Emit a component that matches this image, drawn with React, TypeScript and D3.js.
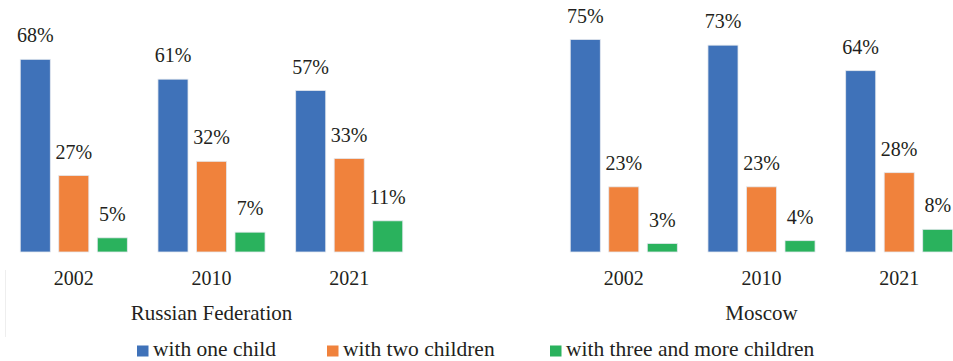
import React from "react";
import * as d3 from "d3";

const years = ["2002", "2010", "2021"];
const seriesNames = ["with one child", "with two children", "with three and more children"];
const seriesColors = ["#3F72B9", "#F0823C", "#2AB25D"];
const russiaOne = [68, 61, 57];
const russiaTwo = [27, 32, 33];
const russiaThree = [5, 7, 11];
const moscowOne = [75, 73, 64];
const moscowTwo = [23, 23, 28];
const moscowThree = [3, 4, 8];
const panelTitles = ["Russian Federation", "Moscow"];

const W = 953;
const H = 361;
const FONT = "'Liberation Serif', 'DejaVu Serif', serif";
const TEXT = "#231F20";

const y = d3.scaleLinear().domain([0, 75]).range([252, 39.5]);

function Panel({ x0Range, values, title }: { x0Range: [number, number]; values: number[][]; title: string }) {
  const x0 = d3.scaleBand<string>().domain(years).range(x0Range).paddingInner(0.161).paddingOuter(0.08);
  const x1 = d3
    .scaleBand<string>()
    .domain(seriesNames)
    .range([0, x0.bandwidth()])
    .paddingInner(0.22)
    .paddingOuter(0.11);
  const center = (x0Range[0] + x0Range[1]) / 2;
  return (
    <g>
      {years.map((yr, gi) => (
        <g key={yr} transform={`translate(${x0(yr)},0)`}>
          {seriesNames.map((s, si) => {
            const v = values[si][gi];
            const bx = x1(s)!;
            const bw = x1.bandwidth();
            return (
              <g key={s}>
                <rect
                  x={bx}
                  y={y(v)}
                  width={bw}
                  height={y(0) - y(v)}
                  fill={seriesColors[si]}
                  stroke="#E4E8EE"
                  strokeWidth={0.8}
                />
                <text
                  x={bx + bw / 2}
                  y={y(v) - 17}
                  textAnchor="middle"
                  fontSize={20}
                  fontFamily={FONT}
                  fill={TEXT}
                >
                  {v}%
                </text>
              </g>
            );
          })}
          <text
            x={x0.bandwidth() / 2}
            y={285}
            textAnchor="middle"
            fontSize={20}
            fontFamily={FONT}
            fill={TEXT}
          >
            {yr}
          </text>
        </g>
      ))}
      <text x={center} y={320} textAnchor="middle" fontSize={21} fontFamily={FONT} fill={TEXT}>
        {title}
      </text>
    </g>
  );
}

const legendX = [137, 327, 550];

export default function App() {
  return (
    <svg
      width={W}
      height={H}
      style={{ position: "absolute", left: 0, top: 0, background: "#fff" }}
    >
      <rect width={W} height={H} fill="#fff" />
      <line x1={5.5} x2={5.5} y1={270} y2={337} stroke="#EEEEEE" strokeWidth={1} />
      <Panel x0Range={[5, 418]} values={[russiaOne, russiaTwo, russiaThree]} title={panelTitles[0]} />
      <Panel x0Range={[555, 968]} values={[moscowOne, moscowTwo, moscowThree]} title={panelTitles[1]} />
      {seriesNames.map((s, i) => (
        <g key={s}>
          <rect x={legendX[i]} y={345.5} width={11.5} height={11} fill={seriesColors[i]} />
          <text x={legendX[i] + 16} y={355.5} fontSize={21.5} fontFamily={FONT} fill={TEXT}>
            {s}
          </text>
        </g>
      ))}
    </svg>
  );
}
